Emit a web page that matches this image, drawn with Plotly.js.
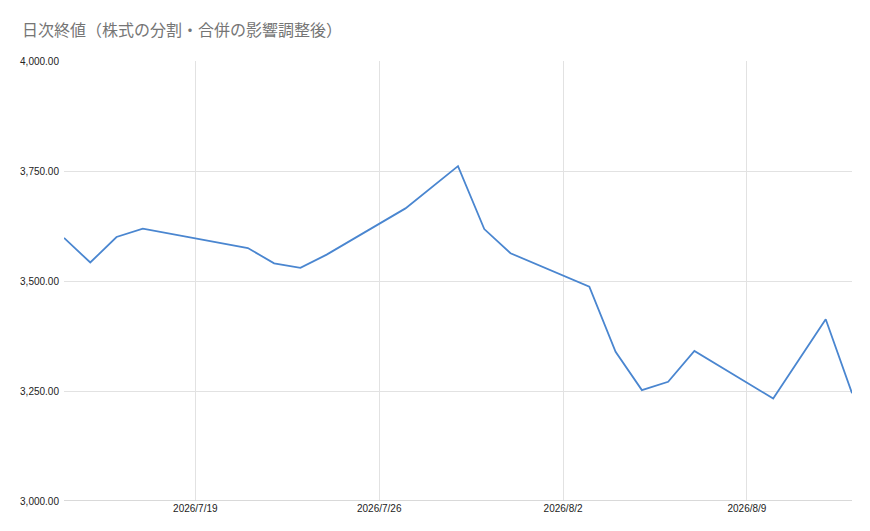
<!DOCTYPE html>
<html>
<head>
<meta charset="utf-8">
<script src="https://cdn.plot.ly/plotly-3.0.1.min.js"></script>
<style>
  html, body { margin: 0; padding: 0; background: #ffffff; }
  #chart { width: 870px; height: 531px; }
</style>
</head>
<body>
<div id="chart"></div>
<script>
// ---- DATA ----
const chartTitle = "日次終値（株式の分割・合併の影響調整後）";
const dates = [
  "2026-07-14", "2026-07-15", "2026-07-16", "2026-07-17",
  "2026-07-21", "2026-07-22", "2026-07-23", "2026-07-24",
  "2026-07-27", "2026-07-29", "2026-07-30", "2026-07-31",
  "2026-08-03", "2026-08-04", "2026-08-05", "2026-08-06", "2026-08-07",
  "2026-08-10", "2026-08-12", "2026-08-13"
];
const closes = [
  3598, 3542, 3600, 3619,
  3575, 3540, 3530, 3560,
  3665, 3761, 3618, 3563,
  3487, 3339, 3252, 3271, 3341,
  3233, 3413, 3245
];
const xTickVals = ["2026-07-19", "2026-07-26", "2026-08-02", "2026-08-09"];
const xTickText = ["2026/7/19", "2026/7/26", "2026/8/2", "2026/8/9"];
const yTickVals = [3000, 3250, 3500, 3750, 4000];
const xRange = ["2026-07-14", "2026-08-13"];
const yRange = [3000, 4000];

// ---- CHART ----
const trace = {
  x: dates,
  y: closes,
  type: "scatter",
  mode: "lines",
  line: { color: "#4a86d0", width: 1.8 },
  hoverinfo: "x+y"
};

const layout = {
  width: 870,
  height: 531,
  margin: { l: 64, r: 18, t: 61, b: 30 },
  paper_bgcolor: "#ffffff",
  plot_bgcolor: "#ffffff",
  showlegend: false,
  title: {
    text: chartTitle,
    font: { family: "Noto Sans CJK JP, sans-serif", size: 16, color: "#757575" },
    xref: "container", x: 22 / 870, xanchor: "left",
    yref: "container", y: 1 - 30 / 531, yanchor: "middle"
  },
  xaxis: {
    type: "date",
    range: xRange,
    tickmode: "array",
    tickvals: xTickVals,
    ticktext: xTickText,
    showgrid: true,
    gridcolor: "#e2e2e2",
    gridwidth: 1,
    zeroline: false,
    showline: false,
    ticks: "",
    tickfont: { family: "Liberation Sans, Arial, sans-serif", size: 10, color: "#222222" },
    ticklen: 0
  },
  yaxis: {
    range: yRange,
    tickmode: "array",
    tickvals: yTickVals,
    tickformat: ",.2f",
    showgrid: true,
    gridcolor: "#e2e2e2",
    gridwidth: 1,
    zeroline: false,
    showline: false,
    ticks: "",
    ticklabelstandoff: 4,
    tickfont: { family: "Liberation Sans, Arial, sans-serif", size: 10, color: "#222222" }
  },
  shapes: [
    {
      type: "line", xref: "paper", yref: "y",
      x0: 0, x1: 1, y0: 3000, y1: 3000,
      line: { color: "#cccccc", width: 1.5 }
    }
  ]
};

Plotly.newPlot("chart", [trace], layout, { displayModeBar: false, staticPlot: true });
</script>
</body>
</html>
